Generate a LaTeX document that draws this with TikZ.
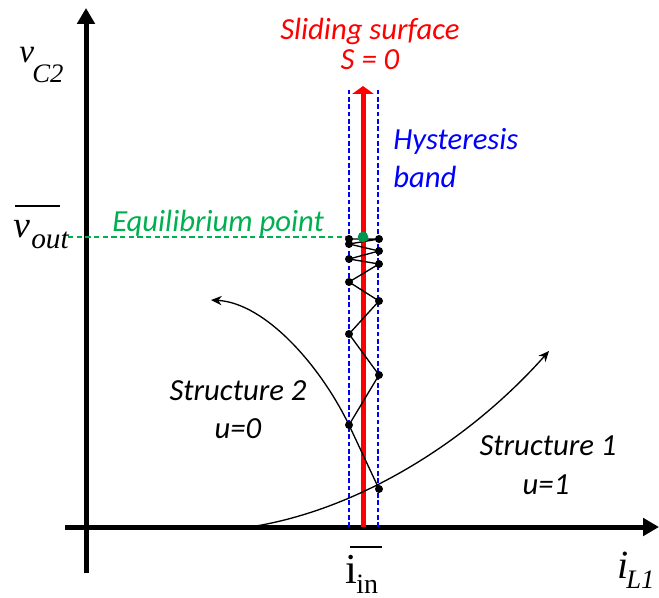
\documentclass[tikz,border=0pt]{standalone}
\usepackage{fontspec}
\setmainfont{Carlito}
\newfontfamily\serfam{Liberation Serif}
\usetikzlibrary{arrows.meta}
\definecolor{gtext}{RGB}{0,176,80}
\definecolor{gdot}{RGB}{0,150,80}
\tikzset{
  axis/.style={line width=3.75pt,-{Triangle[width=13pt,length=12pt]}},
  band/.style={blue,line width=0.9pt,dash pattern=on 3.5pt off 2pt},
  traj/.style={line width=1pt},
  pt/.style={circle,fill=black,inner sep=0pt,minimum size=6pt},
  lbl/.style={font=\fontsize{23}{23}\selectfont\itshape,inner sep=0pt,anchor=base},
  mbig/.style={inner sep=0pt,anchor=base west},
  ovl/.style={line width=0.9pt},
}
\begin{document}
\begin{tikzpicture}[x=0.75pt,y=-0.75pt]
\useasboundingbox (0,0) rectangle (659,598);
% axes
\coordinate (yb) at (86,573);
\coordinate (yt) at (86,8);
\coordinate (xl) at (65,527);
\coordinate (xr) at (659,527);
\draw[axis] (yb) -- (yt);
\draw[axis] (xl) -- (xr);
% hysteresis band
\coordinate (bl0) at (349,527);
\coordinate (bl1) at (349,89);
\coordinate (br0) at (378,527);
\coordinate (br1) at (378,89);
\draw[band] (bl0) -- (bl1);
\draw[band] (br0) -- (br1);
% sliding surface
\coordinate (s0) at (363,527);
\coordinate (s1) at (363,86);
\draw[red,line width=3.75pt,-{Triangle[width=16pt,length=6pt]}] (s0) -- (s1);
% equilibrium dashed line
\coordinate (e0) at (68,237);
\coordinate (e1) at (349,237);
\draw[gtext,line width=0.9pt,dash pattern=on 4pt off 2.5pt] (e0) -- (e1);
% structure 1 curve
\coordinate (c1s) at (250,527);
\coordinate (c1e) at (549,351);
\draw[traj,-{Stealth[width=7pt,length=8pt]}] (c1s) .. controls (360,510) and (470,440) .. (c1e);
% trajectory points
\node[pt] (p1) at (379,489) {};
\node[pt] (p2) at (349,425) {};
\node[pt] (p3) at (379,375) {};
\node[pt] (p4) at (349,334) {};
\node[pt] (p5) at (379,301) {};
\node[pt] (p6) at (349,282) {};
\node[pt] (p7) at (379,264) {};
\node[pt] (p8) at (349,259) {};
\node[pt] (p9) at (379,251) {};
\node[pt] (p10) at (349,244) {};
\node[pt] (p11) at (379,239) {};
\node[pt] (p12) at (349,239) {};
% structure 2 curve
\coordinate (c2e) at (211,300);
\draw[traj,-{Stealth[width=7pt,length=8pt]}] (p2.center) .. controls (320,365) and (265,303) .. (c2e);
\draw[traj] (p1.center) -- (p2.center) -- (p3.center) -- (p4.center) -- (p5.center) -- (p6.center) -- (p7.center) -- (p8.center) -- (p9.center) -- (p10.center) -- (p11.center) -- (p12.center);
\node[circle,fill=gdot,inner sep=0pt,minimum size=8pt] (eq) at (363,237) {};
% text labels
\node[lbl,red] (t1) at (370,40) {Sliding surface};
\node[lbl,red] (t2) at (370,70) {S = 0};
\node[lbl,blue,anchor=base west] (t3) at (393,150) {Hysteresis};
\node[lbl,blue,anchor=base west] (t4) at (393,188) {band};
\node[lbl,gtext,anchor=base west] (t5) at (112,232) {Equilibrium point};
\node[lbl] (t6) at (238,400) {Structure 2};
\node[lbl] (t7) at (238,438) {u=0};
\node[lbl] (t8) at (548,455) {Structure 1};
\node[lbl] (t9) at (546,494) {u=1};
% axis labels
\node[mbig] (vv) at (19,63) {\serfam\itshape\fontsize{25}{25}\selectfont v};
\node[mbig] (vsub) at (32,83) {\serfam\itshape\fontsize{20}{20}\selectfont C2};
\node[mbig] (ov) at (13,238) {\serfam\itshape\fontsize{28}{28}\selectfont v};
\node[mbig] (osub) at (31,248) {\serfam\itshape\fontsize{22}{22}\selectfont out};
\coordinate (ol0) at (15,206);
\coordinate (ol1) at (60,206);
\draw[ovl] (ol0) -- (ol1);
\node[mbig] (ii) at (345,583) {\serfam\fontsize{32}{32}\selectfont i};
\node[mbig] (isub) at (356,593) {\serfam\fontsize{21}{21}\selectfont in};
\coordinate (il0) at (350,547);
\coordinate (il1) at (382,547);
\draw[ovl] (il0) -- (il1);
\node[mbig] (li) at (617,578) {\serfam\itshape\fontsize{30}{30}\selectfont i};
\node[mbig] (lsub) at (626,588) {\serfam\itshape\fontsize{20}{20}\selectfont L1};
\end{tikzpicture}
\end{document}
